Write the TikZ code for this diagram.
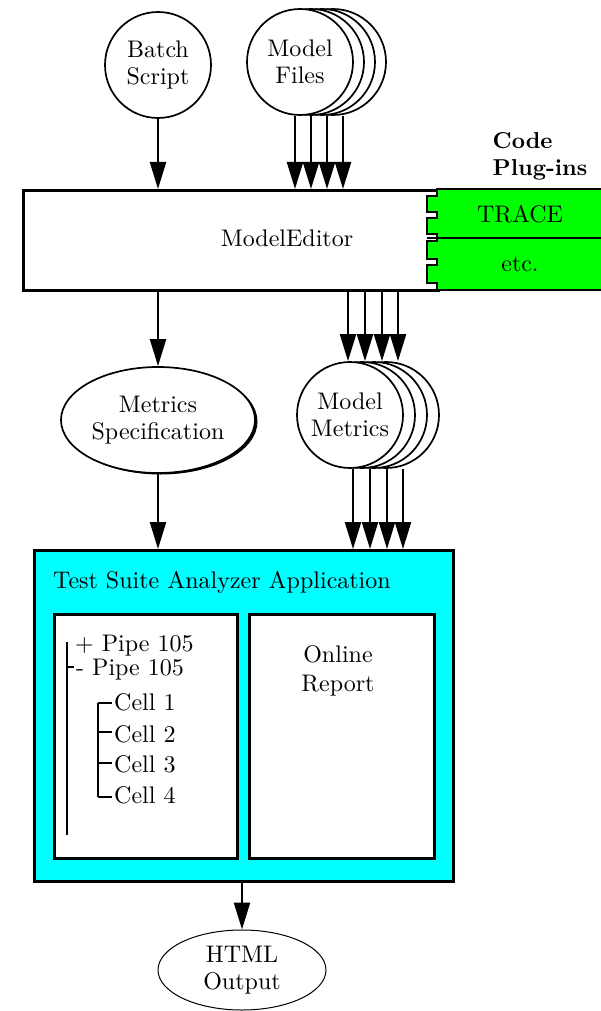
\documentclass[tikz,border=0pt]{standalone}
\usepackage{fontspec}
\newfontfamily\tfont{lmroman10-regular.otf}[BoldFont=lmroman10-bold.otf]
\usetikzlibrary{arrows.meta,calc,shapes.geometric,shadows}
\definecolor{appcyan}{RGB}{0,255,255}
\definecolor{plugreen}{RGB}{0,255,0}

\begin{document}
\begin{tikzpicture}[x=1pt,y=-1pt,
  every node/.style={font=\tfont\fontsize{24}{27}\selectfont, inner sep=0pt},
  arr/.style={-{Triangle[length=27pt,width=16pt]}, line width=2.2pt},
  disk/.style={circle, draw, line width=1.7pt, fill=white, minimum size=106pt, align=center},
  backdisk/.style={draw, line width=1.7pt, fill=white},
  frame/.style={draw, line width=2.5pt},
  treeline/.style={line width=2.2pt},
  label/.style={anchor=base west},
]
\useasboundingbox (0,0) rectangle (600,1011);

% ---- inputs ----
\node[disk] (batch) at (158,65) {Batch\\Script};

\foreach \d in {33,22,11}
  \draw[backdisk] (300+\d,62) circle[radius=53];
\node[disk] (files) at (300,62) {Model\\Files};

% ---- plug-in column ----
\node[align=left, font=\tfont\bfseries\fontsize{23}{27}\selectfont] (plugins) at (540,156) {Code\\Plug-ins};

% ---- editor ----
\node[frame, fill=white, minimum width=415pt, minimum height=100pt, anchor=north west] (editor) at (22,189) {};
\node (editorlabel) at (287,238) {ModelEditor};

% plug-in slots with their notched joint
\fill[plugreen] (437,189) -- (437,196) -- (427,196) -- (427,212) -- (437,212) -- (437,218)
  -- (427,218) -- (427,234) -- (437,234) -- (437,241) -- (427,241) -- (427,259)
  -- (437,259) -- (437,265) -- (427,265) -- (427,283) -- (437,283) -- (437,290)
  -- (601,290) -- (601,189) -- cycle;
\draw[line width=2.2pt] (601,189) -- (437,189) -- (437,196) -- (427,196) -- (427,212) -- (437,212) -- (437,218)
  -- (427,218) -- (427,234) -- (437,234) -- (437,241) -- (427,241) -- (427,259)
  -- (437,259) -- (437,265) -- (427,265) -- (427,283) -- (437,283) -- (437,290) -- (601,290);
\draw[line width=1.5pt] (427,238) -- (601,238);
\node (trace) at (520,214) {TRACE};
\node (etc) at (520,264) {etc.};

\draw[arr] (batch) -- (batch |- editor.north);
\foreach \dx in {-5,11,27,43}
  \draw[arr] ($(files.south)+(\dx,0)$) -- ($(files.south |- editor.north)+(\dx,0)$);

% ---- intermediate products ----
\node[ellipse, draw, line width=1.7pt, fill=white, minimum width=194pt, minimum height=106pt,
      inner xsep=-10pt, align=center,
      drop shadow={shadow xshift=2.5pt, shadow yshift=-1.5pt, opacity=1, fill=black}]
  (mspec) at (158,420) {Metrics\\Specification};

\foreach \d in {36,24,12}
  \draw[backdisk] (350+\d,415) circle[radius=53];
\node[disk] (mm) at (350,415) {Model\\Metrics};

\draw[arr] (editor.south -| mspec.north) -- (mspec.north);
\foreach \dx in {-2,15,32,48}
  \draw[arr] ($(editor.south -| mm.north)+(\dx,0)$) -- ($(mm.north)+(\dx,0)$);

% ---- analyzer application ----
\node[frame, fill=appcyan, minimum width=419pt, minimum height=331pt, anchor=north west] (tsa) at (33,549) {};
\node[label] (tsatitle) at (53,588) {Test Suite Analyzer Application};

\node[frame, fill=white, minimum width=183pt, minimum height=244pt, anchor=north west] (tree) at (53,613) {};
\node[frame, fill=white, minimum width=185pt, minimum height=244pt, anchor=north west] (report) at (248,613) {};

\draw[arr] (mspec.south) -- (mspec.south |- tsa.north);
\foreach \dx in {3,20,37,53}
  \draw[arr] ($(mm.south)+(\dx,0)$) -- ($(mm.south |- tsa.north)+(\dx,0)$);

% tree view
\draw[treeline] (67,642) -- (67,835);
\draw[treeline] (67,667) -- (74,667);
\node[label] (pipeA) at (75,651) {+ Pipe 105};
\node[label] (pipeB) at (76,675) {- Pipe 105};
\draw[treeline] (98,703) -- (98,797);
\foreach \y in {703,732,763,797}
  \draw[treeline] (98,\y) -- (112,\y);
\node[label] (cellA) at (114,710) {Cell 1};
\node[label] (cellB) at (114,742) {Cell 2};
\node[label] (cellC) at (114,772) {Cell 3};
\node[label] (cellD) at (114,803) {Cell 4};

% report view
\node[align=center, font=\tfont\fontsize{24}{29}\selectfont] (online) at (338,671) {Online\\Report};

% ---- output ----
\node[ellipse, draw, line width=1pt, fill=white, minimum width=168pt, minimum height=80pt, align=center]
  (html) at (242,970) {HTML\\Output};
\draw[arr] (tsa.south -| html.north) -- (html.north);
\end{tikzpicture}
\end{document}
